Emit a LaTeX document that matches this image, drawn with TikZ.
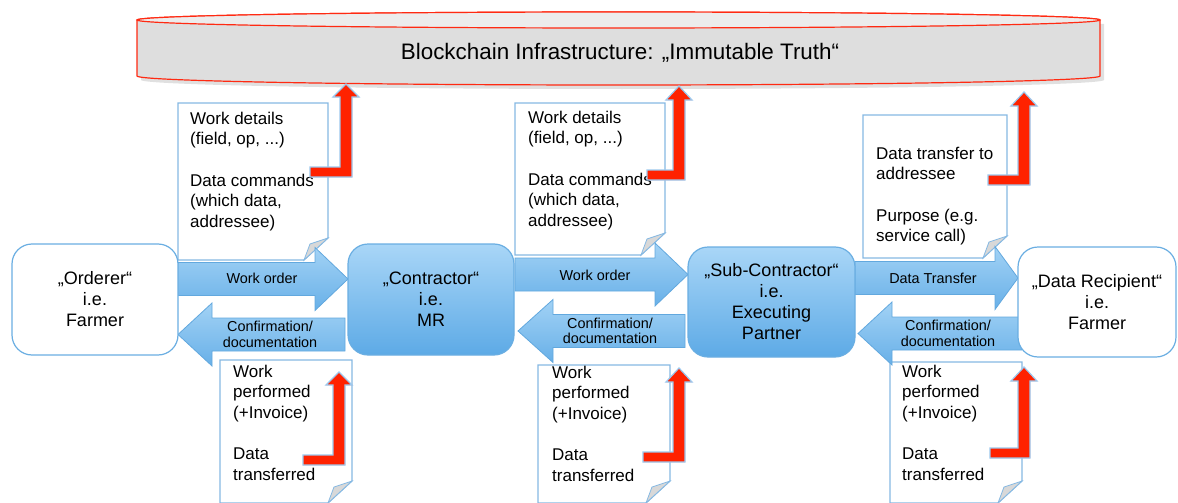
\documentclass[tikz,border=0pt]{standalone}
\usepackage{fontspec}
\setmainfont{Liberation Sans}
\usetikzlibrary{calc}
\definecolor{cred}{HTML}{FF2A12}
\definecolor{arrred}{HTML}{FF2200}
\definecolor{glow}{HTML}{9CC8EE}
\definecolor{bborder}{HTML}{6AAEE2}
\definecolor{docborder}{HTML}{86B9E3}
\definecolor{btop}{HTML}{A9D6F7}
\definecolor{bbot}{HTML}{5DAAE6}
\definecolor{atop}{HTML}{A2D2F5}
\definecolor{abot}{HTML}{68B0E8}
\definecolor{aedge}{HTML}{62A8DE}
\definecolor{cylbody}{HTML}{DEDEDE}
\definecolor{cyltop}{HTML}{ECECEC}
\definecolor{foldgray}{HTML}{D8D8D8}
\tikzset{
  partybox/.style={draw=bborder, line width=1.2pt, rounded corners=20pt, align=center,
    font=\fontsize{18}{21}\selectfont, inner sep=0pt},
  whitebox/.style={partybox, fill=white},
  bluebox/.style={partybox, top color=btop, bottom color=bbot},
  blockarrow/.style={draw=aedge, line width=0.8pt, top color=atop, bottom color=abot},
  arrlabel/.style={font=\fontsize{14.4}{15.5}\selectfont, align=center, inner sep=0pt},
  docbox/.style={draw=docborder, line width=1.2pt, fill=white},
  docfold/.style={draw=docborder, line width=0.8pt, fill=foldgray},
  doctext/.style={font=\fontsize{17}{20.7}\selectfont, align=left, anchor=north west, inner sep=0pt},
  redarrow/.style={draw=glow, line width=1.2pt, fill=arrred},
}
% document with folded bottom-right corner: x0 y0 x1 y1
\newcommand\docshape[4]{%
  \path[docbox] (#1,#2) -- (#3,#2) -- (#3,#4-22) -- (#3-24,#4) -- (#1,#4) -- cycle;
  \path[docfold] (#3,#4-22) -- (#3-24,#4) -- (#3-18,#4-16) -- cycle;}
% right block arrow: tail x, head base x, tip x, center y
\newcommand\rarrow[4]{%
  \path[blockarrow] (#1,#4-16.5) -- (#2,#4-16.5) -- (#2,#4-31.5) -- (#3,#4) -- (#2,#4+31.5)
    -- (#2,#4+16.5) -- (#1,#4+16.5) -- cycle;}
% red L arrow: bar left x, bar top y, bar bottom y, shaft left x, shaft right x, head base y, tip y
\newcommand\redL[7]{%
  \path[redarrow] (#1,#2) -- (#4,#2) -- (#4,#6) -- (#4-7,#6) -- ({(#4+#5)/2},#7) -- (#5+7,#6)
    -- (#5,#6) -- (#5,#3) -- (#1,#3) -- cycle;}
\begin{document}
\begin{tikzpicture}[x=1pt,y=-1pt]
\useasboundingbox (0,0) rectangle (1178,503);
% blockchain cylinder
\path[fill=black!12] (141,24) -- (141,80) .. controls (141,85) and (357,89) .. (622,89)
  .. controls (887,89) and (1104,85) .. (1104,80) -- (1104,24) -- cycle;
\draw[cred, line width=1.2pt, fill=cylbody] (137,20) -- (137,76)
  .. controls (137,81) and (352.6,85) .. (618.5,85)
  .. controls (884.4,85) and (1100,81) .. (1100,76) -- (1100,20)
  .. controls (1100,15.6) and (884.4,12) .. (618.5,12)
  .. controls (352.6,12) and (137,15.6) .. (137,20) -- cycle;
\draw[cred, line width=1.2pt, fill=cyltop] (618.5,20) ellipse (481.5 and 8);
\node[font=\fontsize{22.4}{26}\selectfont, inner sep=0pt] (title) at (620,53)
  {Blockchain Infrastructure: „Immutable Truth“};

% top documents
\docshape{178}{103}{328}{260}
\node[doctext] (d1) at (190,111.5) {Work details\\(field, op, ...)\\[20.7pt]Data commands\\(which data,\\addressee)};
\docshape{515}{103}{665}{255}
\node[doctext] (d2) at (528,110.5) {Work details\\(field, op, ...)\\[20.7pt]Data commands\\(which data,\\addressee)};
\docshape{863}{115}{1007}{258}
\node[doctext] (d3) at (876,146.5) {Data transfer to\\addressee\\[20.7pt]Purpose (e.g.\\service call)};

% bottom documents
\docshape{220}{360}{352}{503}
\node[doctext] (b1) at (233,364.5) {Work\\performed\\(+Invoice)\\[20.7pt]Data\\transferred};
\docshape{538}{365}{670}{503}
\node[doctext] (b2) at (552,365.5) {Work\\performed\\(+Invoice)\\[20.7pt]Data\\transferred};
\docshape{890}{362}{1022}{503}
\node[doctext] (b3) at (902,364.5) {Work\\performed\\(+Invoice)\\[20.7pt]Data\\transferred};

% block arrows
\rarrow{178}{315}{348}{279}
\node[arrlabel] (wo1) at (262,278) {Work order};
\rarrow{345}{212}{178}{334.5}
\node[arrlabel] (cf1) at (270,334.5) {Confirmation/\\documentation};
\rarrow{515}{655}{688}{274.5}
\node[arrlabel] (wo2) at (595,275) {Work order};
\rarrow{685}{553}{518}{331}
\node[arrlabel] (cf2) at (610,331) {Confirmation/\\documentation};
\rarrow{855}{995}{1018}{278}
\node[arrlabel] (dt) at (933,278) {Data Transfer};
\rarrow{1022}{892}{858}{333.5}
\node[arrlabel] (cf3) at (948,333.5) {Confirmation/\\documentation};

% parties
\node[whitebox, minimum width=166pt, minimum height=111pt] (ord) at (95,299.5)
  {„Orderer“\\i.e.\\Farmer};
\node[bluebox, minimum width=166pt, minimum height=111pt] (con) at (431,299.5)
  {„Contractor“\\i.e.\\MR};
\node[bluebox, minimum width=167pt, minimum height=110pt] (sub) at (771.5,302)
  {„Sub-Contractor“\\i.e.\\Executing\\Partner};
\node[whitebox, minimum width=158pt, minimum height=110pt] (rec) at (1097,302)
  {„Data Recipient“\\i.e.\\Farmer};

% red arrows up to the blockchain
\redL{310}{167}{177}{340}{352}{97}{84}
\redL{647}{170}{180}{673}{685}{100}{86}
\redL{988}{175}{185}{1018}{1030}{106}{92}
\redL{303}{455}{465}{333}{345}{385}{372}
\redL{643}{452}{462}{673}{685}{382}{368}
\redL{990}{448}{458}{1018}{1030}{381}{367}
\end{tikzpicture}
\end{document}
